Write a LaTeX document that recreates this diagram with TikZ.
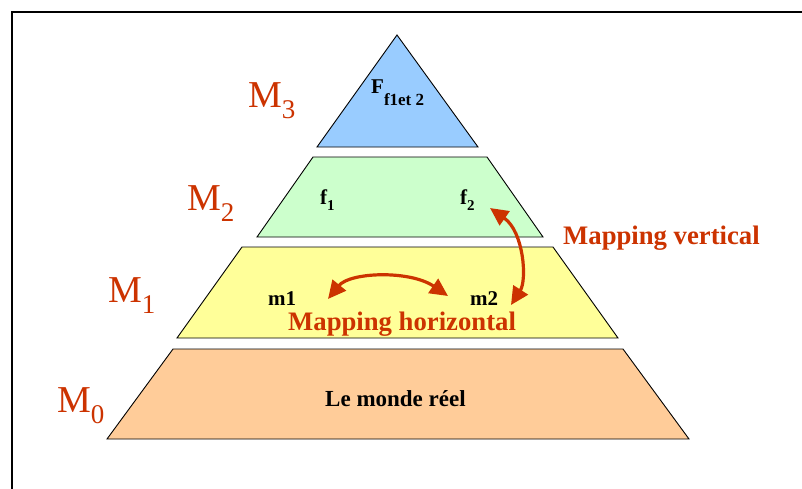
\documentclass[tikz,border=0pt]{standalone}
\usepackage{fontspec}
\setmainfont{Liberation Serif}
\usetikzlibrary{arrows.meta}
\definecolor{mred}{RGB}{204,51,0}
\definecolor{cblue}{RGB}{153,204,255}
\definecolor{cgreen}{RGB}{204,255,204}
\definecolor{cyellow}{RGB}{255,255,153}
\definecolor{corange}{RGB}{255,204,153}
\newcommand\Msubx[1]{\raisebox{-0.3em}{\fontsize{27}{27}\selectfont #1}}
\newcommand\Fsubx[1]{\raisebox{-0.3em}{\fontsize{15}{15}\selectfont #1}}
\begin{document}
\begin{tikzpicture}[x=1pt,y=-1pt,
  level/.style={draw=black,line width=0.9pt,line join=miter},
  mlabel/.style={anchor=base west,inner sep=0pt,text=mred,font=\fontsize{38}{38}\selectfont},
  maplabel/.style={anchor=base west,inner sep=0pt,text=mred,font=\bfseries\fontsize{26.7}{26.7}\selectfont},
  elem/.style={anchor=base west,inner sep=0pt,font=\bfseries\fontsize{21}{21}\selectfont},
  maparrow/.style={draw=mred,line width=3.2pt,{Triangle[length=18pt,width=17pt]}-{Triangle[length=18pt,width=17pt]}}]
\useasboundingbox (0,0) rectangle (802,488);
\fill[white] (0,0) rectangle (802,488);
\draw[line width=2.5pt] (12,489) -- (12,12) -- (803,12);
% pyramid levels
\draw[level,fill=cblue] (397,35) -- (478,147) -- (317,147) -- cycle;
\draw[level,fill=cgreen] (313,157) -- (487,157) -- (543,237) -- (257,237) -- cycle;
\draw[level,fill=cyellow] (242,247) -- (553,247) -- (618,338) -- (177,338) -- cycle;
\draw[level,fill=corange] (173,349) -- (623,349) -- (689,439) -- (107,439) -- cycle;
% level labels
\node[mlabel] (m3lab) at (248,107) {M\Msubx{3}};
\node[mlabel] (m2lab) at (187,210) {M\Msubx{2}};
\node[mlabel] (m1lab) at (108,302) {M\Msubx{1}};
\node[mlabel] (m0lab) at (57,412) {M\Msubx{0}};
% elements
\node[elem] (F) at (371,93) {F\raisebox{-12pt}{\fontsize{17}{17}\selectfont f1et 2}};
\node[elem] (f1) at (320,204) {f\Fsubx{1}};
\node[elem] (f2) at (460,204) {f\Fsubx{2}};
\node[elem] (m1) at (268,305) {m1};
\node[elem] (m2) at (470,305) {m2};
\node[anchor=base west,inner sep=0pt,font=\bfseries\fontsize{23}{23}\selectfont] (real) at (325,406) {Le monde réel};
% mapping labels
\node[maplabel] (mv) at (563,244) {Mapping vertical};
\node[maplabel] (mh) at (288,330) {Mapping horizontal};
% arrows
\coordinate (vtop) at (490,208);
\coordinate (vbot) at (511,305);
\coordinate (hl) at (328,299);
\coordinate (hr) at (448,296);
\draw[maparrow] (vtop) .. controls (524,232) and (527,280) .. (vbot);
\draw[maparrow] (hl) .. controls (350,272) and (410,270) .. (hr);
\end{tikzpicture}
\end{document}
